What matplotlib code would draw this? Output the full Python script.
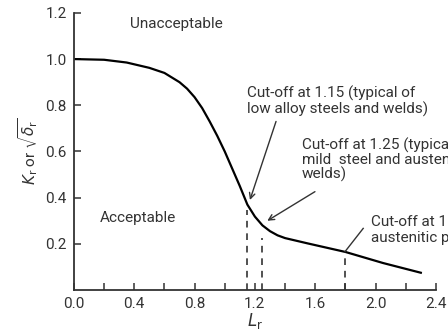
import numpy as np
import matplotlib.pyplot as plt

# failure assessment curve
L_r = [0.0, 0.2, 0.35, 0.5, 0.6, 0.7, 0.75, 0.8, 0.85, 0.9, 0.95, 1.0, 1.05,
       1.1, 1.15, 1.2, 1.25, 1.3, 1.35, 1.4, 1.55, 1.8, 2.05, 2.3]
K_r = [1.0, 0.997, 0.985, 0.962, 0.94, 0.90, 0.872, 0.835, 0.788, 0.73, 0.668,
       0.60, 0.525, 0.45, 0.37, 0.318, 0.28, 0.255, 0.237, 0.225, 0.202,
       0.165, 0.117, 0.075]

cutoffs = [1.15, 1.25, 1.8]
cutoff_tops = [0.345, 0.225, 0.15]

x_major = [0.0, 0.4, 0.8, 1.2, 1.6, 2.0, 2.4]
x_minor = [0.2, 0.6, 1.0, 1.4, 1.8, 2.2]
y_ticks = [0.2, 0.4, 0.6, 0.8, 1.0, 1.2]

plt.rcParams['font.family'] = ['Roboto', 'DejaVu Sans']
plt.rcParams['mathtext.fontset'] = 'dejavusans'
txt = '#333333'
fs = 11

fig = plt.figure(figsize=(4.48, 3.30), dpi=100)
ax = fig.add_axes([0.165, 0.121, 0.808, 0.840])

ax.plot(L_r, K_r, color='black', lw=1.6, solid_joinstyle='round')
for xc, yt in zip(cutoffs, cutoff_tops):
    ax.plot([xc, xc], [0, yt], color='#333333', lw=1.2, ls=(0, (4, 3.5)))

ax.set_xlim(0, 2.4)
ax.set_ylim(0, 1.2)
ax.set_xticks(x_major)
ax.set_xticks(x_minor, minor=True)
ax.set_yticks(y_ticks)
ax.set_xticklabels(['%.1f' % v for v in x_major])
ax.set_yticklabels(['%.1f' % v for v in y_ticks])
for s in ['top', 'right']:
    ax.spines[s].set_visible(False)
for s in ['left', 'bottom']:
    ax.spines[s].set_color('#333333')
    ax.spines[s].set_linewidth(1.3)
ax.tick_params(which='both', direction='in', length=5, width=1.1,
               colors='#333333', labelsize=fs, labelcolor=txt, pad=5)

ax.set_xlabel(r'$L_\mathrm{r}$', fontsize=12, color=txt, labelpad=0)
ax.set_ylabel(r'$K_\mathrm{r}$ or $\sqrt{\delta_\mathrm{r}}$', fontsize=11,
              color=txt, labelpad=4)

ax.text(0.37, 1.15, 'Unacceptable', fontsize=fs, color=txt, va='center')
ax.text(0.17, 0.31, 'Acceptable', fontsize=fs, color=txt, va='center')
ax.text(1.147, 0.885, 'Cut-off at 1.15 (typical of\nlow alloy steels and welds)',
        fontsize=fs, color=txt, va='top', linespacing=1.1)
ax.text(1.51, 0.66, 'Cut-off at 1.25 (typical of\nmild  steel and austenitic\nwelds)',
        fontsize=fs, color=txt, va='top', linespacing=1.0)
ax.text(1.97, 0.325, 'Cut-off at 1.8 (typical of\naustenitic parent metal)',
        fontsize=fs, color=txt, va='top', linespacing=1.0)

arrow = dict(arrowstyle='->', lw=1.0, color='#333333', shrinkA=0, shrinkB=0)
ax.annotate('', xy=(1.167, 0.39), xytext=(1.34, 0.73), arrowprops=arrow)
ax.annotate('', xy=(1.282, 0.30), xytext=(1.598, 0.426), arrowprops=arrow)
ax.plot([1.797, 1.918], [0.166, 0.267], color='#333333', lw=1.0)

fig.savefig('out.png', dpi=100)
